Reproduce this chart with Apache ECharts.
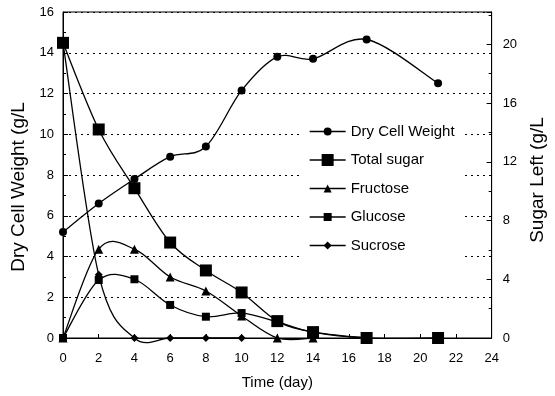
<!DOCTYPE html>
<html><head><meta charset="utf-8">
<script src="https://cdn.jsdelivr.net/npm/echarts@6/dist/echarts.min.js"></script>
<style>html,body{margin:0;padding:0;background:#fff}#c{width:555px;height:396px}</style>
</head><body><div id="c"></div>
<script>
// Data
const days = [0, 2, 4, 6, 8, 10, 12, 14, 17, 21];
const dryCellWeight = [5.2, 6.6, 7.8, 8.9, 9.4, 12.15, 13.8, 13.7, 14.65, 12.5]; // g/L, left axis
const totalSugar = [20.1, 14.2, 10.2, 6.5, 4.6, 3.1, 1.15, 0.4, 0, 0];          // g/L, right axis
const fructose = [0, 6.05, 6.05, 4.15, 3.2, 1.5, 0, 0];
const glucose = [0, 3.95, 4.0, 2.25, 1.45, 1.7, 1.1, 0.4, 0];
const sucrose = [20.1, 4.3, 0, 0, 0, 0];
const seriesNames = ['Dry Cell Weight', 'Total sugar', 'Fructose', 'Glucose', 'Sucrose'];
const xTickLabels = [0, 2, 4, 6, 8, 10, 12, 14, 16, 18, 20, 22, 24];
const leftTickLabels = [0, 2, 4, 6, 8, 10, 12, 14, 16];
const rightTickLabels = [0, 4, 8, 12, 16, 20];

const FONT = 'Liberation Sans, Arial, sans-serif';
const pair = vals => vals.map((v, i) => [days[i], v]);

const chart = echarts.init(document.getElementById('c'), null, { renderer: 'canvas' });

// markers (line series with hidden line, used for symbols + legend)
function marks(name, vals, yIdx, symbol, size, z) {
  return {
    name, type: 'line', yAxisIndex: yIdx, data: pair(vals),
    symbol, symbolSize: size, showAllSymbol: true,
    lineStyle: { color: '#000', width: 1.3, opacity: 0 },
    itemStyle: { color: '#000', borderWidth: 0 }, z, animation: false
  };
}
// smoothed (Catmull-Rom style, like spreadsheet smoothing) curve through the same data
function curve(id, vals, yIdx, z) {
  const n = vals.length;
  return {
    id, type: 'custom', coordinateSystem: 'cartesian2d', xAxisIndex: 0, yAxisIndex: yIdx,
    data: pair(vals), silent: true, z, animation: false, clip: false,
    renderItem(params, api) {
      const i = params.dataIndex;
      if (i >= n - 1) return null;
      const P = j => { const k = Math.max(0, Math.min(n - 1, j)); return api.coord([days[k], vals[k]]); };
      const p0 = P(i - 1), p1 = P(i), p2 = P(i + 1), p3 = P(i + 2);
      const t = 1 / 6;
      return {
        type: 'bezierCurve',
        shape: {
          x1: p1[0], y1: p1[1], x2: p2[0], y2: p2[1],
          cpx1: p1[0] + (p2[0] - p0[0]) * t, cpy1: p1[1] + (p2[1] - p0[1]) * t,
          cpx2: p2[0] - (p3[0] - p1[0]) * t, cpy2: p2[1] - (p3[1] - p1[1]) * t
        },
        style: { stroke: '#000', lineWidth: 1.3, fill: null }
      };
    }
  };
}

const legendLine = { color: '#000', width: 1.3, opacity: 1, type: 'solid' };

chart.setOption({
  animation: false,
  backgroundColor: '#fff',
  textStyle: { fontFamily: FONT, color: '#000' },
  grid: { left: 63, right: 61, top: 12, bottom: 58, show: true, borderColor: '#000', borderWidth: 1, backgroundColor: 'transparent' },
  xAxis: {
    type: 'value', min: xTickLabels[0], max: xTickLabels[xTickLabels.length - 1], interval: 2,
    name: 'Time (day)', nameLocation: 'middle', nameGap: 37,
    nameTextStyle: { fontSize: 15, color: '#000', fontFamily: FONT },
    axisLine: { lineStyle: { color: '#000', width: 1 } },
    axisTick: { inside: true, length: 4, lineStyle: { color: '#000' } },
    axisLabel: { fontSize: 13, color: '#000', margin: 14, fontFamily: FONT },
    splitLine: { show: false }
  },
  yAxis: [{
    type: 'value', position: 'left', min: leftTickLabels[0], max: leftTickLabels[leftTickLabels.length - 1], interval: 2,
    name: 'Dry Cell Weight (g/L', nameLocation: 'middle', nameGap: 31, nameRotate: 90,
    nameTextStyle: { fontSize: 19, color: '#000', fontFamily: FONT, padding: [0, 24, 0, 0] },
    axisLine: { show: true, lineStyle: { color: '#000', width: 1 } },
    axisTick: { show: true, inside: true, length: 5, lineStyle: { color: '#000' } },
    minorTick: { show: true, splitNumber: 2, length: 3, lineStyle: { color: '#000' } },
    axisLabel: { fontSize: 13, color: '#000', margin: 9, fontFamily: FONT },
    splitLine: { show: true, lineStyle: { color: '#000', type: [2, 4], width: 1 } }
  }, {
    type: 'value', position: 'right', min: rightTickLabels[0], max: 22.2, interval: 4,
    name: 'Sugar Left (g/L', nameLocation: 'middle', nameGap: 36, nameRotate: 90,
    nameTextStyle: { fontSize: 19, color: '#000', fontFamily: FONT, padding: [0, 10, 0, 0] },
    axisLine: { show: true, lineStyle: { color: '#000', width: 1 } },
    axisTick: { show: true, inside: true, length: 5, lineStyle: { color: '#000' } },
    minorTick: { show: true, splitNumber: 2, length: 3, lineStyle: { color: '#000' } },
    axisLabel: { fontSize: 13, color: '#000', margin: 11, fontFamily: FONT, showMaxLabel: false,
      formatter: v => (rightTickLabels.indexOf(v) >= 0 ? String(v) : '') },
    splitLine: { show: false }
  }],
  legend: [{
    orient: 'vertical', left: 299, top: 116, padding: [8, 10, 8, 10], backgroundColor: '#fff', z: 20,
    itemWidth: 36, itemHeight: 10, itemGap: 13.5, selectedMode: false, lineStyle: legendLine,
    textStyle: { fontSize: 15, color: '#000', fontFamily: FONT, lineHeight: 15 },
    data: seriesNames
  }, {
    orient: 'vertical', left: 306, top: 149.5, padding: [3, 3, 3, 3], backgroundColor: '#fff', z: 21,
    itemWidth: 36, itemHeight: 15, selectedMode: false, lineStyle: legendLine,
    textStyle: { fontSize: 15, color: '#000', fontFamily: FONT, lineHeight: 15 },
    data: ['Total sugar']
  }],
  series: [
    curve('c_sucrose', sucrose, 1, 1),
    curve('c_fructose', fructose, 1, 1),
    curve('c_glucose', glucose, 1, 1),
    curve('c_total', totalSugar, 1, 1),
    curve('c_dcw', dryCellWeight, 0, 1),
    marks('Sucrose', sucrose, 1, 'diamond', 8, 2),
    marks('Fructose', fructose, 1, 'triangle', 9, 3),
    marks('Glucose', glucose, 1, 'rect', 8, 4),
    marks('Total sugar', totalSugar, 1, 'rect', 12, 5),
    marks('Dry Cell Weight', dryCellWeight, 0, 'circle', 8, 6)
  ]
});
</script></body></html>
